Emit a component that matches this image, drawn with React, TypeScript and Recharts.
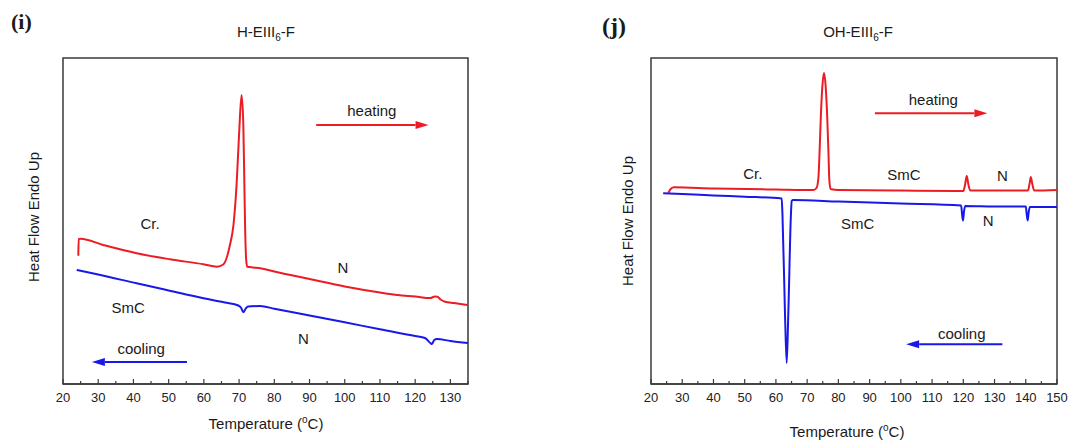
import React from 'react'
import {
  LineChart,
  Line,
  XAxis,
  YAxis,
  ReferenceArea,
  ReferenceDot,
  ReferenceLine,
} from 'recharts'

// heat flow is in arbitrary units (endo up)
const heatingI = [
  { t: 24.35, v: 128.3 }, { t: 24.45, v: 145 }, { t: 25.0, v: 145.2 }, { t: 31.4, v: 139 },
  { t: 40.9, v: 130.7 }, { t: 50.4, v: 124.7 }, { t: 59.9, v: 119.7 }, { t: 63.7, v: 117.3 },
  { t: 65.5, v: 119.5 }, { t: 67.4, v: 139 }, { t: 68.4, v: 159 },
  { t: 69.3, v: 200 }, { t: 70.0, v: 250 }, { t: 70.7, v: 289 }, { t: 71.2, v: 260 },
  { t: 71.5, v: 200 }, { t: 71.7, v: 159 }, { t: 72.0, v: 125 }, { t: 72.3, v: 117.3 },
  { t: 74, v: 116.5 }, { t: 76, v: 115.7 }, { t: 80, v: 112.5 }, { t: 90, v: 105 },
  { t: 100, v: 97.5 }, { t: 110, v: 91.5 }, { t: 115, v: 89 }, { t: 120, v: 87.5 },
  { t: 124.3, v: 86 }, { t: 125.6, v: 87.5 }, { t: 126.3, v: 87.3 }, { t: 127.2, v: 84.5 },
  { t: 128.5, v: 82.3 }, { t: 131, v: 81 }, { t: 135, v: 79 },
]

const coolingI = [
  { t: 23.9, v: 114 }, { t: 30, v: 109.5 }, { t: 40.9, v: 100.7 }, { t: 50, v: 93.5 },
  { t: 59.9, v: 85.7 }, { t: 66, v: 81.5 }, { t: 69.8, v: 78.5 }, { t: 70.6, v: 76 },
  { t: 71.2, v: 71.7 }, { t: 71.8, v: 75 }, { t: 72.5, v: 77.5 }, { t: 76, v: 78 },
  { t: 80, v: 75.3 }, { t: 90, v: 68.5 }, { t: 100, v: 61.7 }, { t: 110, v: 54.7 },
  { t: 120, v: 48 }, { t: 122.8, v: 46 }, { t: 124.3, v: 41 }, { t: 124.8, v: 40 },
  { t: 125.4, v: 44 }, { t: 126.2, v: 45 }, { t: 130, v: 43 }, { t: 135, v: 41 },
]

const heatingJ = [
  { t: 25.55, v: 191.3 }, { t: 26.3, v: 195 }, { t: 27.4, v: 196.7 }, { t: 40, v: 195.5 },
  { t: 60, v: 194.5 }, { t: 72, v: 194 }, { t: 73, v: 196 }, { t: 73.6, v: 206 },
  { t: 74.0, v: 234 }, { t: 74.4, v: 269 }, { t: 74.9, v: 299 }, { t: 75.4, v: 311 },
  { t: 75.9, v: 299 }, { t: 76.4, v: 269 }, { t: 76.8, v: 234 }, { t: 77.1, v: 204 },
  { t: 77.5, v: 195 }, { t: 80, v: 194 }, { t: 100, v: 193.5 }, { t: 120.0, v: 193 },
  { t: 120.6, v: 200 }, { t: 121.1, v: 208 }, { t: 121.6, v: 200 }, { t: 122.2, v: 193.5 },
  { t: 130, v: 193.5 }, { t: 140.7, v: 193.5 }, { t: 141.2, v: 200 }, { t: 141.6, v: 207 },
  { t: 142.1, v: 200 }, { t: 142.7, v: 193.5 }, { t: 150, v: 194 },
]

const coolingJ = [
  { t: 23.9, v: 190.7 }, { t: 30, v: 190 }, { t: 40, v: 188.5 }, { t: 50, v: 187.3 },
  { t: 61.85, v: 185.5 }, { t: 62.1, v: 169 }, { t: 62.9, v: 71 }, { t: 63.45, v: 21 },
  { t: 63.97, v: 71 }, { t: 64.8, v: 169 }, { t: 65.05, v: 183 }, { t: 65.5, v: 184 },
  { t: 80, v: 182.5 }, { t: 100, v: 180.5 }, { t: 119.3, v: 178.5 }, { t: 119.6, v: 170 },
  { t: 119.9, v: 163.5 }, { t: 120.2, v: 172 }, { t: 120.6, v: 178 }, { t: 130, v: 177.5 },
  { t: 140.0, v: 177.5 }, { t: 140.3, v: 170 }, { t: 140.6, v: 163.5 }, { t: 140.9, v: 171 },
  { t: 141.3, v: 177 }, { t: 150, v: 177 },
]

const ticksI = [20, 25, 30, 35, 40, 45, 50, 55, 60, 65, 70, 75, 80, 85, 90, 95, 100, 105, 110, 115, 120, 125, 130, 135]
const ticksJ = [20, 25, 30, 35, 40, 45, 50, 55, 60, 65, 70, 75, 80, 85, 90, 95, 100, 105, 110, 115, 120, 125, 130, 135, 140, 145, 150]

const labelsI = [
  { t: 44.7, v: 161, text: 'Cr.' },
  { t: 99.5, v: 117, text: 'N' },
  { t: 38.5, v: 77, text: 'SmC' },
  { t: 88.3, v: 46, text: 'N' },
  { t: 42.2, v: 36, text: 'cooling' },
  { t: 107.7, v: 274, text: 'heating' },
]
const labelsJ = [
  { t: 52.6, v: 210.7, text: 'Cr.' },
  { t: 101, v: 210, text: 'SmC' },
  { t: 132.5, v: 208.3, text: 'N' },
  { t: 86.2, v: 160.7, text: 'SmC' },
  { t: 128, v: 163.3, text: 'N' },
  { t: 119.5, v: 50.7, text: 'cooling' },
  { t: 110.4, v: 285, text: 'heating' },
]

const arrowsI = [
  { from: 91.9, to: 123.8, v: 259, color: 'red' },
  { from: 55.2, to: 28.2, v: 22, color: 'blue' },
]
const arrowsJ = [
  { from: 91.7, to: 127.7, v: 270.7, color: 'red' },
  { from: 132.5, to: 101.7, v: 39.7, color: 'blue' },
]

const RED = '#ec1c24'
const BLUE = '#1818e8'
const AXIS = '#3a3a3a'
const FONT = '"Liberation Sans", Arial, sans-serif'
const V_MAX = 326

const TempTick = (props: any) => {
  const { x, y, payload } = props
  const major = payload.value % 10 === 0
  return (
    <g>
      <line x1={x} x2={x} y1={y} y2={y - (major ? 5 : 3)} stroke={AXIS} strokeWidth={1.2} />
      {major && (
        <text x={x} y={y + 18} textAnchor="middle" fontSize={13} fill="#222" fontFamily={FONT}>
          {payload.value}
        </text>
      )}
    </g>
  )
}

const Arrow = (props: any) => {
  const { x1, y1, x2, y2, stroke } = props
  const dir = x2 > x1 ? 1 : -1
  const head = 13
  return (
    <g>
      <line x1={x1} y1={y1} x2={x2 - dir * head} y2={y2} stroke={stroke} strokeWidth={2} />
      <polygon
        points={`${x2},${y2} ${x2 - dir * head},${y2 - 4} ${x2 - dir * head},${y2 + 4}`}
        fill={stroke}
      />
    </g>
  )
}

interface PanelProps {
  width: number
  margin: { top: number; right: number; bottom: number; left: number }
  domain: [number, number]
  ticks: number[]
  heating: { t: number; v: number }[]
  cooling: { t: number; v: number }[]
  labels: { t: number; v: number; text: string }[]
  arrows: { from: number; to: number; v: number; color: string }[]
}

function Panel({ width, margin, domain, ticks, heating, cooling, labels, arrows }: PanelProps) {
  return (
    <LineChart width={width} height={443} margin={margin}>
      <XAxis
        dataKey="t"
        type="number"
        domain={domain}
        ticks={ticks}
        interval={0}
        allowDataOverflow
        height={30}
        tickSize={0}
        tickMargin={0}
        tickLine={false}
        axisLine={{ stroke: AXIS, strokeWidth: 1.5 }}
        tick={<TempTick />}
      />
      <YAxis hide type="number" domain={[0, V_MAX]} />
      <ReferenceArea
        x1={domain[0]}
        x2={domain[1]}
        y1={0}
        y2={V_MAX}
        fill="none"
        stroke={AXIS}
        strokeWidth={1.5}
      />
      {labels.map((l) => (
        <ReferenceDot
          key={l.text + l.t}
          x={l.t}
          y={l.v}
          r={0}
          shape={(p: any) => (
            <text
              x={p.cx}
              y={p.cy}
              textAnchor="middle"
              dominantBaseline="central"
              fontSize={15}
              fill="#1a1a1a"
              fontFamily={FONT}
            >
              {l.text}
            </text>
          )}
        />
      ))}
      {arrows.map((a) => (
        <ReferenceLine
          key={a.color}
          segment={[{ x: a.from, y: a.v }, { x: a.to, y: a.v }]}
          stroke={a.color === 'red' ? RED : BLUE}
          shape={<Arrow />}
        />
      ))}
      <Line
        data={heating}
        dataKey="v"
        type="monotone"
        stroke={RED}
        strokeWidth={2}
        dot={false}
        isAnimationActive={false}
      />
      <Line
        data={cooling}
        dataKey="v"
        type="monotone"
        stroke={BLUE}
        strokeWidth={2}
        dot={false}
        isAnimationActive={false}
      />
    </LineChart>
  )
}

export default function App() {
  return (
    <div
      style={{
        position: 'absolute',
        left: 0,
        top: 0,
        width: 1071,
        height: 443,
        background: '#fff',
        fontFamily: FONT,
      }}
    >
      <div style={{ position: 'absolute', left: 0, top: 0 }}>
        <Panel
          width={480}
          margin={{ top: 58, right: 12, bottom: 29, left: 63 }}
          domain={[20, 135]}
          ticks={ticksI}
          heating={heatingI}
          cooling={coolingI}
          labels={labelsI}
          arrows={arrowsI}
        />
      </div>
      <div style={{ position: 'absolute', left: 590, top: 0 }}>
        <Panel
          width={481}
          margin={{ top: 58, right: 14, bottom: 29, left: 61 }}
          domain={[20, 150]}
          ticks={ticksJ}
          heating={heatingJ}
          cooling={coolingJ}
          labels={labelsJ}
          arrows={arrowsJ}
        />
      </div>
      <svg
        width={1071}
        height={443}
        style={{ position: 'absolute', left: 0, top: 0, pointerEvents: 'none' }}
        fontFamily={FONT}
        fill="#1a1a1a"
      >
        <text x={11} y={29} fontSize={22} fontWeight="bold" fontFamily='"Liberation Serif", "Times New Roman", serif'>
          (i)
        </text>
        <text x={602} y={34} fontSize={24} fontWeight="bold" fontFamily='"Liberation Serif", "Times New Roman", serif'>
          (j)
        </text>
        <text x={266} y={37} textAnchor="middle" fontSize={15}>
          H-EIII<tspan dy={4} fontSize={10}>6</tspan>
          <tspan dy={-4}>-F</tspan>
        </text>
        <text x={858} y={37} textAnchor="middle" fontSize={15}>
          OH-EIII<tspan dy={4} fontSize={10}>6</tspan>
          <tspan dy={-4}>-F</tspan>
        </text>
        <text
          x={33}
          y={217}
          textAnchor="middle"
          dominantBaseline="central"
          fontSize={15}
          transform="rotate(-90 33 217)"
        >
          Heat Flow Endo Up
        </text>
        <text
          x={627.5}
          y={221}
          textAnchor="middle"
          dominantBaseline="central"
          fontSize={15}
          transform="rotate(-90 627.5 221)"
        >
          Heat Flow Endo Up
        </text>
        <text x={266} y={429} textAnchor="middle" fontSize={15}>
          Temperature (<tspan dy={-6} fontSize={10}>o</tspan>
          <tspan dy={6}>C)</tspan>
        </text>
        <text x={847} y={437} textAnchor="middle" fontSize={15}>
          Temperature (<tspan dy={-6} fontSize={10}>o</tspan>
          <tspan dy={6}>C)</tspan>
        </text>
      </svg>
    </div>
  )
}
